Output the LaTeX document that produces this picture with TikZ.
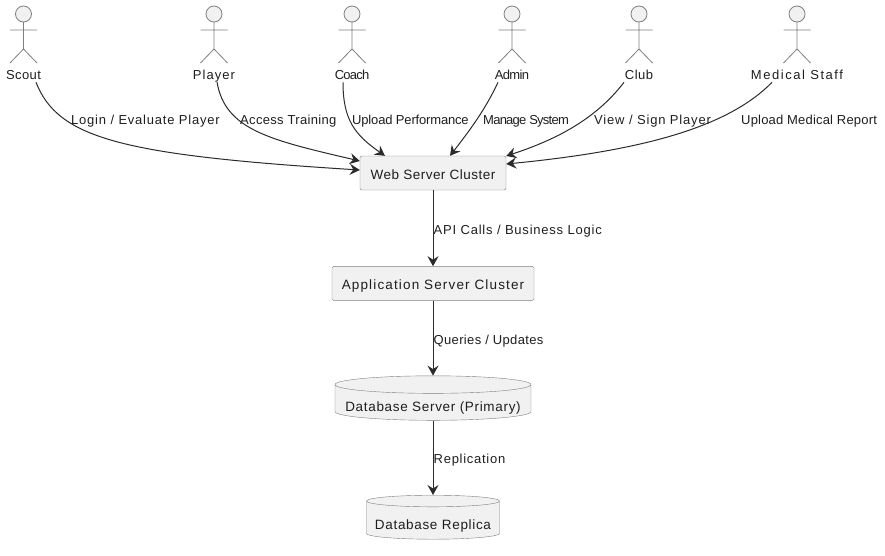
\documentclass[tikz,border=0pt]{standalone}
\usepackage{fontspec}
\setmainfont{Liberation Sans}
\usetikzlibrary{positioning,arrows.meta,shapes.geometric}

\definecolor{boxfill}{HTML}{F1F1F1}
\definecolor{boxline}{HTML}{7F7F7F}
\definecolor{linkcol}{HTML}{2B2B2B}
\definecolor{textcol}{HTML}{1E1E1E}

\tikzset{
  server/.style={draw=boxline, fill=boxfill, rounded corners=1.5pt, text=textcol, text height=12.3pt, text depth=0pt,
    font=\fontsize{13.5}{15}\selectfont\addfontfeature{LetterSpace=#1}, minimum height=34pt, inner sep=0pt},
  store/.style={draw=boxline, fill=boxfill, text=textcol, shape=cylinder, shape border rotate=90,
    aspect=0.1, text height=18pt, text depth=0pt,
    font=\fontsize{13.5}{15}\selectfont\addfontfeature{LetterSpace=#1}, inner sep=0pt},
  actorname/.style={text=textcol, anchor=base, font=\fontsize{13}{15}\selectfont\addfontfeature{LetterSpace=#1}, inner sep=0pt},
  linktext/.style={text=textcol, anchor=base west, font=\fontsize{13}{15}\selectfont\addfontfeature{LetterSpace=#1}, inner sep=0pt},
  actorline/.style={draw=boxline, line width=0.8pt},
  link/.style={draw=linkcol, line width=1pt, -{Stealth[length=10pt,width=11pt,inset=3.5pt]}}
}

\begin{document}
\begin{tikzpicture}[x=1pt,y=-1pt]
  \useasboundingbox (0,0) rectangle (885,555);

  % actors
  \foreach \name/\xpos/\gap/\txt in {Scout/23.5/3/Scout, Player/214/8/Player, Coach/352/-6/Coach,
      Admin/512/-5/Admin, Club/639/4/Club, Medical/797/12/Medical Staff} {
    \draw[actorline, fill=boxfill] (\xpos,14) circle (8);
    \draw[actorline] (\xpos,22) -- (\xpos,49) (\xpos-13.5,30) -- (\xpos+13.5,30)
      (\xpos-13.5,63) -- (\xpos,49) -- (\xpos+13.5,63);
    \node[actorname=\gap] (\name) at (\xpos,79) {\txt};
  }

  % servers
  \node[server=3.5, minimum width=146pt] (Web) at (433,173) {Web Server Cluster};
  \node[server=8.5, minimum width=202pt, below=76pt of Web] (App) {Application Server Cluster};
  \node[store=5, minimum width=196pt, minimum height=44pt, below=75pt of App] (Primary) {Database Server (Primary)};
  \node[store=5, minimum width=133pt, minimum height=44pt, below=74.5pt of Primary] (Replica) {Database Replica};

  % links
  \draw[link] ([xshift=12.5pt,yshift=-3pt]Scout.south) .. controls (58,138) and (120,155) .. ([yshift=3pt]Web.west);
  \draw[link] ([xshift=3pt]Player.south) .. controls (225,130) and (270,140) .. ([yshift=12pt]Web.west);
  \draw[link] ([xshift=-9pt,yshift=-3pt]Coach.south) .. controls (343,120) and (355,135) .. ([xshift=-48pt]Web.north);
  \draw[link] ([xshift=-14pt,yshift=-3pt]Admin.south) .. controls (485,110) and (470,130) .. ([xshift=17pt]Web.north);
  \draw[link] ([xshift=-15pt,yshift=-3pt]Club.south) .. controls (595,120) and (555,140) .. ([yshift=17pt]Web.east);
  \draw[link] ([xshift=-25pt,yshift=-3pt]Medical.south) .. controls (730,125) and (650,150) .. ([yshift=9pt]Web.east);
  \draw[link] (Web) -- (App);
  \draw[link] (App) -- (Primary);
  \draw[link] (Primary) -- (Replica);

  % link texts
  \node[linktext=6] (t1) at (71,124.5) {Login / Evaluate Player};
  \node[linktext=2.5] (t2) at (240,124.5) {Access Training};
  \node[linktext=-1.3] (t3) at (352,124.5) {Upload Performance};
  \node[linktext=-5.8] (t4) at (483,124.5) {Manage System};
  \node[linktext=6.3] (t5) at (594,124.5) {View / Sign Player};
  \node[linktext=1.5] (t6) at (741,124.5) {Upload Medical Report};
  \node[linktext=6] (t7) at (433.5,234.5) {API Calls / Business Logic};
  \node[linktext=2.7] (t8) at (433.5,344.5) {Queries / Updates};
  \node[linktext=5.6] (t9) at (433.5,463.5) {Replication};
\end{tikzpicture}
\end{document}
